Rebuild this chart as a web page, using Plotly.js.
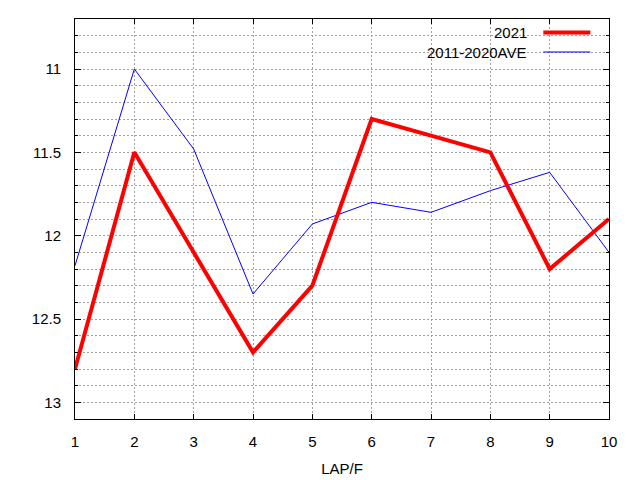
<!DOCTYPE html>
<html>
<head>
<meta charset="utf-8">
<script src="https://cdn.plot.ly/plotly-3.0.1.min.js"></script>
<style>html,body{margin:0;padding:0;background:#fff;}#chart{width:640px;height:480px;}</style>
</head>
<body>
<div id="chart"></div>
<script>
// Data
var laps = [1, 2, 3, 4, 5, 6, 7, 8, 9, 10];
var times2021 = [12.8, 11.5, 12.1, 12.7, 12.3, 11.3, 11.4, 11.5, 12.2, 11.9];
var timesAve = [12.18, 11.0, 11.48, 12.35, 11.93, 11.8, 11.86, 11.73, 11.62, 12.1];
var seriesNames = ["2021", "2011-2020AVE"];
var xTitle = "LAP/F";

var FONT = "Liberation Sans, Arial, sans-serif";
var GRID = "#a0a0a0";

var traceAve = {
  x: laps, y: timesAve, type: "scatter", mode: "lines",
  name: seriesNames[1], line: {color: "#0000ff", width: 1}
};
var trace2021 = {
  x: laps, y: times2021, type: "scatter", mode: "lines",
  name: seriesNames[0], line: {color: "#ff0000", width: 4}
};

var layout = {
  width: 640, height: 480,
  margin: {l: 75, r: 31, t: 19, b: 61},
  paper_bgcolor: "#fff", plot_bgcolor: "#fff",
  showlegend: false,
  font: {family: FONT, size: 15, color: "#000"},
  xaxis: {
    range: [1, 10], tick0: 1, dtick: 1,
    showline: true, linecolor: "#000", linewidth: 1, mirror: "allticks",
    ticks: "inside", ticklen: 5, tickcolor: "#000",
    showgrid: true, gridcolor: GRID, gridwidth: 1, griddash: "2px,2px",
    zeroline: false, ticklabelstandoff: 9,
    title: {text: xTitle, standoff: 14, font: {family: FONT, size: 15}}
  },
  yaxis: {
    range: [13.1, 10.7], tick0: 11, dtick: 0.5,
    showline: true, linecolor: "#000", linewidth: 1, mirror: "allticks",
    ticks: "inside", ticklen: 6, tickcolor: "#000",
    showgrid: true, gridcolor: GRID, gridwidth: 1, griddash: "2px,2px",
    zeroline: false, ticklabelstandoff: 10,
    minor: {dtick: 0.1, tick0: 11, ticks: "inside", ticklen: 3, tickcolor: "#000",
            showgrid: true, gridcolor: GRID, gridwidth: 1, griddash: "2px,2px"}
  },
  shapes: [
    {type: "rect", xref: "paper", yref: "paper", x0: 0.632, x1: 0.978, y0: 0.898, y1: 0.986,
     fillcolor: "#fff", line: {width: 0}, layer: "between"},
    {type: "line", xref: "paper", yref: "paper", x0: 0.877, x1: 0.965, y0: 0.966, y1: 0.966,
     line: {color: "#ff0000", width: 4}},
    {type: "line", xref: "paper", yref: "paper", x0: 0.877, x1: 0.965, y0: 0.9175, y1: 0.9175,
     line: {color: "#0000ff", width: 1}}
  ],
  annotations: [
    {xref: "paper", yref: "paper", x: 0.851, y: 0.966, xanchor: "right", yanchor: "middle",
     text: seriesNames[0], showarrow: false, font: {family: FONT, size: 15, color: "#000"}},
    {xref: "paper", yref: "paper", x: 0.851, y: 0.9175, xanchor: "right", yanchor: "middle",
     text: seriesNames[1], showarrow: false, font: {family: FONT, size: 15, color: "#000"}}
  ]
};

Plotly.newPlot("chart", [traceAve, trace2021], layout, {displayModeBar: false, staticPlot: true});
</script>
</body>
</html>
